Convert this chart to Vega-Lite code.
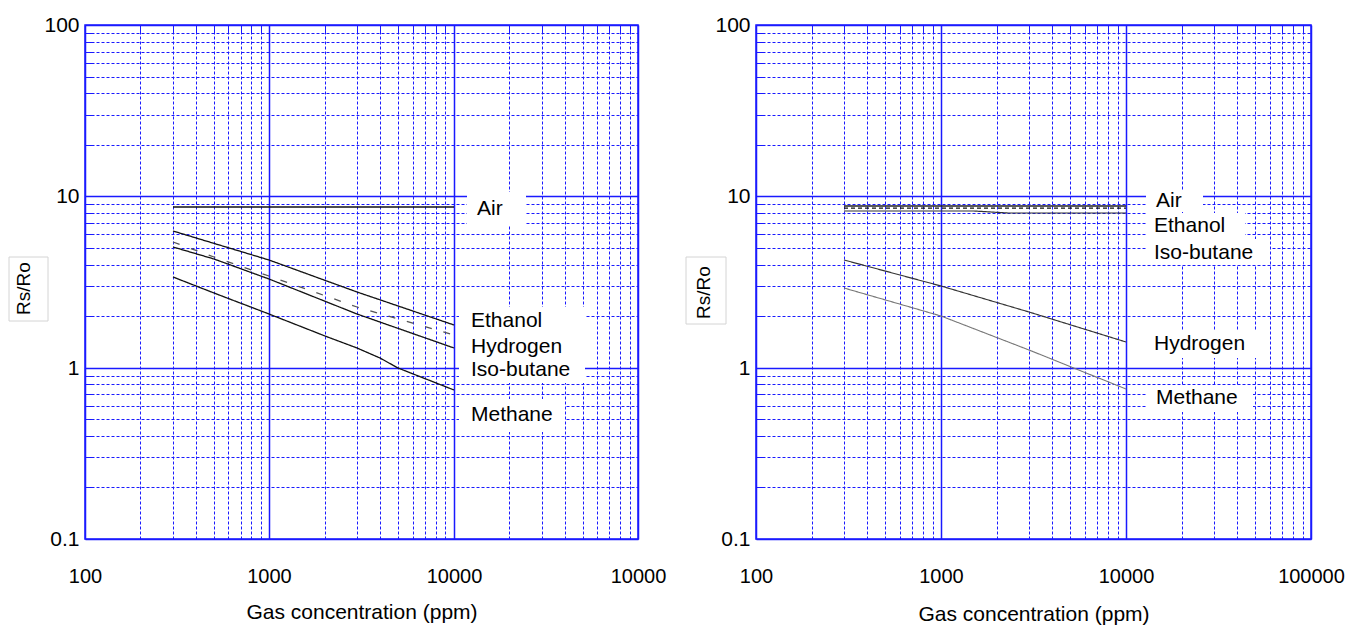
{
  "$schema": "https://vega.github.io/schema/vega-lite/v6.json",
  "background": "white",
  "padding": {"left": 7, "top": 13, "right": 0, "bottom": 0},
  "spacing": 17,
  "config": {
    "font": "Liberation Sans",
    "view": {"stroke": "#1a1aff", "strokeWidth": 1.5},
    "axis": {
      "domain": false,
      "ticks": false,
      "grid": true,
      "gridColor": "#1a1aff",
      "gridOpacity": 1,
      "labelFont": "Liberation Sans",
      "labelFontSize": 21,
      "labelColor": "#000000",
      "labelOverlap": false,
      "labelFlush": false,
      "titleFont": "Liberation Sans",
      "titleFontWeight": "normal",
      "titleColor": "#000000"
    }
  },
  "resolve": {"scale": {"color": "independent", "strokeDash": "independent", "strokeWidth": "independent"}},
  "datasets": {
    "curves": [
      {"panel": "A", "series": "Air", "x": 300, "y": 8.65},
      {"panel": "A", "series": "Air", "x": 10000, "y": 8.65},
      {"panel": "A", "series": "Ethanol", "x": 300, "y": 6.3},
      {"panel": "A", "series": "Ethanol", "x": 1000, "y": 4.26},
      {"panel": "A", "series": "Ethanol", "x": 3000, "y": 2.78},
      {"panel": "A", "series": "Ethanol", "x": 10000, "y": 1.77},
      {"panel": "A", "series": "Hydrogen", "x": 300, "y": 5.42},
      {"panel": "A", "series": "Hydrogen", "x": 500, "y": 4.4},
      {"panel": "A", "series": "Hydrogen", "x": 1000, "y": 3.45},
      {"panel": "A", "series": "Hydrogen", "x": 3000, "y": 2.25},
      {"panel": "A", "series": "Hydrogen", "x": 10000, "y": 1.56},
      {"panel": "A", "series": "Iso-butane", "x": 300, "y": 5.05},
      {"panel": "A", "series": "Iso-butane", "x": 500, "y": 4.3},
      {"panel": "A", "series": "Iso-butane", "x": 1000, "y": 3.29},
      {"panel": "A", "series": "Iso-butane", "x": 3000, "y": 2.06},
      {"panel": "A", "series": "Iso-butane", "x": 10000, "y": 1.31},
      {"panel": "A", "series": "Methane", "x": 300, "y": 3.38},
      {"panel": "A", "series": "Methane", "x": 500, "y": 2.74},
      {"panel": "A", "series": "Methane", "x": 1000, "y": 2.06},
      {"panel": "A", "series": "Methane", "x": 2000, "y": 1.54},
      {"panel": "A", "series": "Methane", "x": 3000, "y": 1.3},
      {"panel": "A", "series": "Methane", "x": 4000, "y": 1.14},
      {"panel": "A", "series": "Methane", "x": 5000, "y": 1.0},
      {"panel": "A", "series": "Methane", "x": 10000, "y": 0.742},
      {"panel": "B", "series": "Air", "x": 300, "y": 8.82},
      {"panel": "B", "series": "Air", "x": 10000, "y": 8.82},
      {"panel": "B", "series": "Ethanol", "x": 300, "y": 8.52},
      {"panel": "B", "series": "Ethanol", "x": 10000, "y": 8.52},
      {"panel": "B", "series": "Iso-butane", "x": 300, "y": 8.25},
      {"panel": "B", "series": "Iso-butane", "x": 1500, "y": 8.22},
      {"panel": "B", "series": "Iso-butane", "x": 2300, "y": 7.99},
      {"panel": "B", "series": "Iso-butane", "x": 10000, "y": 7.99},
      {"panel": "B", "series": "Hydrogen", "x": 300, "y": 4.23},
      {"panel": "B", "series": "Hydrogen", "x": 1000, "y": 3.0},
      {"panel": "B", "series": "Hydrogen", "x": 3000, "y": 2.12},
      {"panel": "B", "series": "Hydrogen", "x": 10000, "y": 1.42},
      {"panel": "B", "series": "Methane", "x": 300, "y": 2.93},
      {"panel": "B", "series": "Methane", "x": 1000, "y": 2.0},
      {"panel": "B", "series": "Methane", "x": 3000, "y": 1.26},
      {"panel": "B", "series": "Methane", "x": 10000, "y": 0.75}
    ],
    "labels": [
      {"panel": "A", "text": "Air", "x": 13390, "y": 8.49},
      {"panel": "A", "text": "Ethanol", "x": 12430, "y": 1.867},
      {"panel": "A", "text": "Hydrogen", "x": 12430, "y": 1.324},
      {"panel": "A", "text": "Iso-butane", "x": 12430, "y": 0.966},
      {"panel": "A", "text": "Methane", "x": 12430, "y": 0.53},
      {"panel": "B", "text": "Air", "x": 14530, "y": 9.38},
      {"panel": "B", "text": "Ethanol", "x": 14230, "y": 6.72},
      {"panel": "B", "text": "Iso-butane", "x": 14230, "y": 4.66},
      {"panel": "B", "text": "Hydrogen", "x": 14230, "y": 1.377},
      {"panel": "B", "text": "Methane", "x": 14590, "y": 0.661}
    ],
    "boxes": [
      {"panel": "A", "x": 11822, "x2": 24710, "y": 6.74, "y2": 10.6},
      {"panel": "A", "x": 10700, "x2": 51640, "y": 0.815, "y2": 2.25},
      {"panel": "A", "x": 10700, "x2": 40220, "y": 0.423, "y2": 0.658},
      {"panel": "B", "x": 12890, "x2": 26100, "y": 8.1, "y2": 10.9},
      {"panel": "B", "x": 12890, "x2": 43900, "y": 5.67, "y2": 7.95},
      {"panel": "B", "x": 12890, "x2": 59800, "y": 3.95, "y2": 5.6},
      {"panel": "B", "x": 12890, "x2": 52840, "y": 1.14, "y2": 1.66},
      {"panel": "B", "x": 12890, "x2": 48480, "y": 0.548, "y2": 0.787}
    ],
    "frames": [
      {"panel": "A", "x": 38.7, "x2": 63, "y": 1.87, "y2": 4.45},
      {"panel": "B", "x": 41.8, "x2": 68.6, "y": 1.8, "y2": 4.4}
    ]
  },
  "hconcat": [
    {
      "width": 553,
      "height": 514,
      "layer": [
        {
          "data": {"name": "boxes"},
          "transform": [{"filter": "datum.panel === 'A'"}],
          "mark": {"type": "rect", "fill": "white", "strokeWidth": 0},
          "encoding": {
            "x": {
              "field": "x", "type": "quantitative",
              "scale": {"type": "log", "domain": [100, 100000], "nice": false, "round": true},
              "axis": {
                "values": [100,200,300,400,500,600,700,800,900,1000,2000,3000,4000,5000,6000,7000,8000,9000,10000,20000,30000,40000,50000,60000,70000,80000,90000,100000],
                "title": "Gas concentration (ppm)",
                "titleFontSize": 21,
                "titlePadding": 12,
                "minExtent": 50,
                "maxExtent": 50,
                "labelPadding": 27,
                "labelFontSize": 20,
                "gridColor": "#1a1aff",
                "labelExpr": "abs(log(datum.value)/LN10-round(log(datum.value)/LN10))<0.001 ? (datum.value > 50000 ? '10000' : '' + datum.value) : ''",
                "gridWidth": {"condition": {"test": "abs(log(datum.value)/LN10-round(log(datum.value)/LN10))<0.001", "value": 1.5}, "value": 1},
                "gridDash": {"condition": {"test": "abs(log(datum.value)/LN10-round(log(datum.value)/LN10))<0.001", "value": []}, "value": [9,2,3,2,3,2,3,2,3,2,3,2,3,2,3,2,3,2,3,2,3,2,3,2,3,2,3,2,3,2,3,2,3,2,3,2,3,2,3,2,3,2,3,2,3,2,3,2,3,2,3,2,3,2,3,2,3,2,3,2,3,2,3,2,3,2,3,2,3,2,3,2,3,2,3,2,3,2,3,2,3,2,3,2,3,2,3,2,3,2,3,2,3,2,3,2,3,2,3,2,3,2,3,2,3,2,3,2,3,2,3,2,3,2,3,2,3,2,3,2,3,2,3,2,3,2,3,2,3,2,3,2,3,2,3,2,3,2,3,2,3,2,3,2,3,2,3,2,3,2,3,2,3,2,3,2,3,2,3,2,3,2,3,2,3,2,3,2,3,2,3,2,3,2,3,2,3,2,3,2,3,2,3,2,3,2,3,2,3,2,3,2,3,2,3,2,3,2,3,2,3,2,8,20]}
              }
            },
            "x2": {"field": "x2"},
            "y": {
              "field": "y", "type": "quantitative",
              "scale": {"type": "log", "domain": [0.1, 100], "nice": false, "round": true},
              "axis": {
                "values": [0.1,0.2,0.3,0.4,0.5,0.6,0.7,0.8,0.9,1,2,3,4,5,6,7,8,9,10,20,30,40,50,60,70,80,90,100],
                "title": "Rs/Ro",
                "titleFontSize": 19,
                "titlePadding": 6,
                "titleY": 263,
                "minExtent": 46,
                "maxExtent": 46,
                "labelPadding": 6,
                "gridColor": "#1a1aff",
                "labelExpr": "abs(log(datum.value)/LN10-round(log(datum.value)/LN10))<0.001 ? '' + datum.value : ''",
                "gridWidth": {"condition": {"test": "abs(log(datum.value)/LN10-round(log(datum.value)/LN10))<0.001", "value": 1.5}, "value": 1},
                "gridDash": {"condition": {"test": "abs(log(datum.value)/LN10-round(log(datum.value)/LN10))<0.001", "value": []}, "value": [9,2,3,2,3,2,3,2,3,2,3,2,3,2,3,2,3,2,3,2,3,2,3,2,3,2,3,2,3,2,3,2,3,2,3,2,3,2,3,2,3,2,3,2,3,2,3,2,3,2,3,2,3,2,3,2,3,2,3,2,3,2,3,2,3,2,3,2,3,2,3,2,3,2,3,2,3,2,3,2,3,2,3,2,3,2,3,2,3,2,3,2,3,2,3,2,3,2,3,2,3,2,3,2,3,2,3,2,3,2,3,2,3,2,3,2,3,2,3,2,3,2,3,2,3,2,3,2,3,2,3,2,3,2,3,2,3,2,3,2,3,2,3,2,3,2,3,2,3,2,3,2,3,2,3,2,3,2,3,2,3,2,3,2,3,2,3,2,3,2,3,2,3,2,3,2,3,2,3,2,3,2,3,2,3,2,3,2,3,2,3,2,3,2,3,2,3,2,3,2,3,2,3,2,3,2,3,2,3,2,3,2,3,2,3,2,3,2,3,2,3,2,3,2,12,20]}
              }
            },
            "y2": {"field": "y2"}
          }
        },
        {
          "data": {"name": "frames"},
          "transform": [{"filter": "datum.panel === 'A'"}],
          "mark": {"type": "rect", "fill": null, "stroke": "#d4d4d4", "strokeWidth": 1, "clip": false},
          "encoding": {
            "x": {"field": "x", "type": "quantitative"},
            "x2": {"field": "x2"},
            "y": {"field": "y", "type": "quantitative"},
            "y2": {"field": "y2"}
          }
        },
        {
          "data": {"name": "curves"},
          "transform": [{"filter": "datum.panel === 'A'"}],
          "mark": {"type": "line", "strokeWidth": 1.3},
          "encoding": {
            "x": {"field": "x", "type": "quantitative"},
            "y": {"field": "y", "type": "quantitative"},
            "color": {"field": "series", "type": "nominal", "legend": null,
              "scale": {"domain": ["Air", "Ethanol", "Hydrogen", "Iso-butane", "Methane"], "range": ["#111111", "#111111", "#555555", "#111111", "#111111"]}},
            "strokeDash": {"field": "series", "type": "nominal", "legend": null,
              "scale": {"domain": ["Air", "Ethanol", "Hydrogen", "Iso-butane", "Methane"], "range": [[1, 0], [1, 0], [7, 12], [1, 0], [1, 0]]}}
          }
        },
        {
          "data": {"name": "labels"},
          "transform": [{"filter": "datum.panel === 'A'"}],
          "mark": {"type": "text", "align": "left", "baseline": "middle", "fontSize": 21, "font": "Liberation Sans", "color": "#000000"},
          "encoding": {
            "x": {"field": "x", "type": "quantitative"},
            "y": {"field": "y", "type": "quantitative"},
            "text": {"field": "text"}
          }
        }
      ]
    },
    {
      "width": 555,
      "height": 514,
      "layer": [
        {
          "data": {"name": "boxes"},
          "transform": [{"filter": "datum.panel === 'B'"}],
          "mark": {"type": "rect", "fill": "white", "strokeWidth": 0},
          "encoding": {
            "x": {
              "field": "x", "type": "quantitative",
              "scale": {"type": "log", "domain": [100, 100000], "nice": false, "round": true},
              "axis": {
                "values": [100,200,300,400,500,600,700,800,900,1000,2000,3000,4000,5000,6000,7000,8000,9000,10000,20000,30000,40000,50000,60000,70000,80000,90000,100000],
                "title": "Gas concentration (ppm)",
                "titleFontSize": 21,
                "titlePadding": 14,
                "minExtent": 50,
                "maxExtent": 50,
                "labelPadding": 27,
                "labelFontSize": 20,
                "gridColor": "#1a1aff",
                "labelExpr": "abs(log(datum.value)/LN10-round(log(datum.value)/LN10))<0.001 ? '' + datum.value : ''",
                "gridWidth": {"condition": {"test": "abs(log(datum.value)/LN10-round(log(datum.value)/LN10))<0.001", "value": 1.5}, "value": 1},
                "gridDash": {"condition": {"test": "abs(log(datum.value)/LN10-round(log(datum.value)/LN10))<0.001", "value": []}, "value": [9,2,3,2,3,2,3,2,3,2,3,2,3,2,3,2,3,2,3,2,3,2,3,2,3,2,3,2,3,2,3,2,3,2,3,2,3,2,3,2,3,2,3,2,3,2,3,2,3,2,3,2,3,2,3,2,3,2,3,2,3,2,3,2,3,2,3,2,3,2,3,2,3,2,3,2,3,2,3,2,3,2,3,2,3,2,3,2,3,2,3,2,3,2,3,2,3,2,3,2,3,2,3,2,3,2,3,2,3,2,3,2,3,2,3,2,3,2,3,2,3,2,3,2,3,2,3,2,3,2,3,2,3,2,3,2,3,2,3,2,3,2,3,2,3,2,3,2,3,2,3,2,3,2,3,2,3,2,3,2,3,2,3,2,3,2,3,2,3,2,3,2,3,2,3,2,3,2,3,2,3,2,3,2,3,2,3,2,3,2,3,2,3,2,3,2,3,2,3,2,3,2,8,20]}
              }
            },
            "x2": {"field": "x2"},
            "y": {
              "field": "y", "type": "quantitative",
              "scale": {"type": "log", "domain": [0.1, 100], "nice": false, "round": true},
              "axis": {
                "values": [0.1,0.2,0.3,0.4,0.5,0.6,0.7,0.8,0.9,1,2,3,4,5,6,7,8,9,10,20,30,40,50,60,70,80,90,100],
                "title": "Rs/Ro",
                "titleFontSize": 19,
                "titlePadding": 5,
                "titleY": 267,
                "minExtent": 38,
                "maxExtent": 38,
                "labelPadding": 6,
                "gridColor": "#1a1aff",
                "labelExpr": "abs(log(datum.value)/LN10-round(log(datum.value)/LN10))<0.001 ? '' + datum.value : ''",
                "gridWidth": {"condition": {"test": "abs(log(datum.value)/LN10-round(log(datum.value)/LN10))<0.001", "value": 1.5}, "value": 1},
                "gridDash": {"condition": {"test": "abs(log(datum.value)/LN10-round(log(datum.value)/LN10))<0.001", "value": []}, "value": [9,2,3,2,3,2,3,2,3,2,3,2,3,2,3,2,3,2,3,2,3,2,3,2,3,2,3,2,3,2,3,2,3,2,3,2,3,2,3,2,3,2,3,2,3,2,3,2,3,2,3,2,3,2,3,2,3,2,3,2,3,2,3,2,3,2,3,2,3,2,3,2,3,2,3,2,3,2,3,2,3,2,3,2,3,2,3,2,3,2,3,2,3,2,3,2,3,2,3,2,3,2,3,2,3,2,3,2,3,2,3,2,3,2,3,2,3,2,3,2,3,2,3,2,3,2,3,2,3,2,3,2,3,2,3,2,3,2,3,2,3,2,3,2,3,2,3,2,3,2,3,2,3,2,3,2,3,2,3,2,3,2,3,2,3,2,3,2,3,2,3,2,3,2,3,2,3,2,3,2,3,2,3,2,3,2,3,2,3,2,3,2,3,2,3,2,3,2,3,2,3,2,3,2,3,2,3,2,3,2,3,2,3,2,3,2,3,2,3,2,3,2,3,2,3,2,3,2,9,20]}
              }
            },
            "y2": {"field": "y2"}
          }
        },
        {
          "data": {"name": "frames"},
          "transform": [{"filter": "datum.panel === 'B'"}],
          "mark": {"type": "rect", "fill": null, "stroke": "#d4d4d4", "strokeWidth": 1, "clip": false},
          "encoding": {
            "x": {"field": "x", "type": "quantitative"},
            "x2": {"field": "x2"},
            "y": {"field": "y", "type": "quantitative"},
            "y2": {"field": "y2"}
          }
        },
        {
          "data": {"name": "curves"},
          "transform": [{"filter": "datum.panel === 'B'"}],
          "mark": {"type": "line"},
          "encoding": {
            "x": {"field": "x", "type": "quantitative"},
            "y": {"field": "y", "type": "quantitative"},
            "color": {"field": "series", "type": "nominal", "legend": null,
              "scale": {"domain": ["Air", "Ethanol", "Iso-butane", "Hydrogen", "Methane"], "range": ["#222222", "#111111", "#333333", "#333333", "#777777"]}},
            "strokeDash": {"field": "series", "type": "nominal", "legend": null,
              "scale": {"domain": ["Air", "Ethanol", "Iso-butane", "Hydrogen", "Methane"], "range": [[1, 0], [4, 3], [1, 0], [1, 0], [1, 0]]}},
            "strokeWidth": {"field": "series", "type": "nominal", "legend": null,
              "scale": {"domain": ["Air", "Ethanol", "Iso-butane", "Hydrogen", "Methane"], "range": [1.3, 1.1, 1.3, 1.3, 1.1]}}
          }
        },
        {
          "data": {"name": "labels"},
          "transform": [{"filter": "datum.panel === 'B'"}],
          "mark": {"type": "text", "align": "left", "baseline": "middle", "fontSize": 21, "font": "Liberation Sans", "color": "#000000"},
          "encoding": {
            "x": {"field": "x", "type": "quantitative"},
            "y": {"field": "y", "type": "quantitative"},
            "text": {"field": "text"}
          }
        }
      ]
    }
  ]
}
